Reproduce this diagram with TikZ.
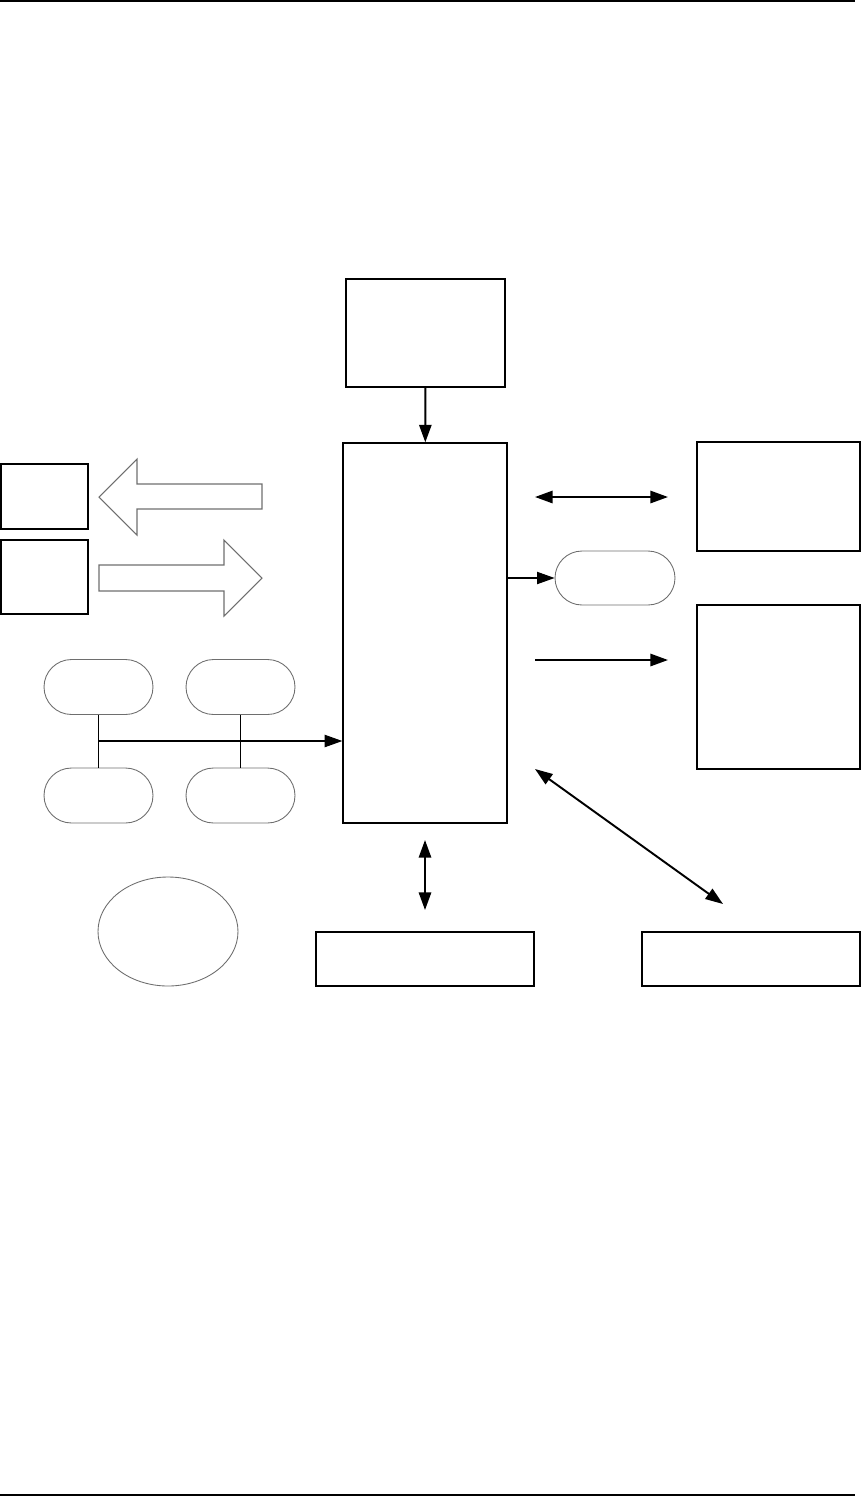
\documentclass[tikz,border=0pt]{standalone}
\usepackage{tikz}
\usetikzlibrary{
  positioning,
  arrows.meta,
  calc
}
\usepackage{xcolor}
\definecolor{pillline}{HTML}{6E6E6E}

\begin{document}
\begin{tikzpicture}[x=0.02cm, y=-0.02cm,
  block/.style={draw, line width=0.8pt, inner sep=0pt},
  pill/.style={draw=pillline, line width=0.5pt, rounded corners=0.55cm,
               minimum width=2.18cm, minimum height=1.1cm, inner sep=0pt},
  hollow/.style={draw=pillline, line width=0.6pt, line join=miter},
  arr/.style={-{Triangle[length=10pt, width=7pt]}, line width=1.1pt},
  dblarr/.style={{Triangle[length=10pt, width=7pt]}-{Triangle[length=10pt, width=7pt]}, line width=1.1pt},
  thinarr/.style={-{Triangle[length=10pt, width=7pt]}, line width=0.6pt}
]
  \useasboundingbox (0,0) rectangle (861,1498);

  % page rules
  \coordinate (rtl) at (0,1);
  \coordinate (rtr) at (855,1);
  \coordinate (rbl) at (0,1495);
  \coordinate (rbr) at (855,1495);
  \draw[line width=1.1pt] (rtl) -- (rtr);
  \draw[line width=0.8pt] (rbl) -- (rbr);

  % centre column
  \node[block, minimum width=3.18cm, minimum height=2.16cm] (top) at (425.5, 333) {};
  \node[block, minimum width=3.28cm, minimum height=7.6cm] (main) at (425, 633) {};
  \draw[arr] (top) -- (main);

  % left side boxes
  \node[block, minimum width=1.74cm, minimum height=1.3cm] (lbox1) at (44.5, 496.5) {};
  \node[block, minimum width=1.74cm, minimum height=1.48cm] (lbox2) at (44.5, 577) {};

  % block arrows
  \draw[hollow] (99,497) -- (137,459) -- (137,484) -- (262,484) -- (262,509)
    -- (137,509) -- (137,535) -- cycle;
  \draw[hollow] (99,565) -- (224,565) -- (224,540) -- (262,578) -- (224,616)
    -- (224,591) -- (99,591) -- cycle;

  % four pills feeding the main block
  \node[pill] (pilltl) at (98.5, 687) {};
  \node[pill] (pilltr) at (240.5, 687) {};
  \node[pill] (pillbl) at (98.5, 795.5) {};
  \node[pill] (pillbr) at (240.5, 795.5) {};
  \draw[line width=0.6pt] (pilltl.south) -- (pillbl.north);
  \draw[line width=1.1pt] (pilltr.south) -- (pillbr.north);
  \coordinate (bus) at (98, 741);
  \draw[thinarr] (bus) -- (bus -| main.west);

  % ellipse
  \draw[draw=pillline, line width=0.5pt] (168, 931.5) ellipse [x radius=70, y radius=54.5];

  % right side
  \node[block, minimum width=3.26cm, minimum height=2.18cm] (rbox1) at (778.5, 496.5) {};
  \node[block, minimum width=3.26cm, minimum height=3.28cm] (rbox2) at (778.5, 687) {};
  \node[pill, minimum width=2.4cm, minimum height=1.08cm, rounded corners=0.54cm] (pillr) at (615, 578) {};
  \draw[thinarr] (main.east |- pillr) -- (pillr.west);

  \coordinate (da1) at (535, 497);
  \coordinate (da2) at (668, 497);
  \draw[dblarr] (da1) -- (da2);
  \coordinate (oa1) at (535, 660);
  \coordinate (oa2) at (668, 660);
  \draw[arr] (oa1) -- (oa2);

  % bottom row
  \node[block, minimum width=4.36cm, minimum height=1.08cm] (bbox1) at (425, 959) {};
  \node[block, minimum width=4.36cm, minimum height=1.08cm] (bbox2) at (751, 959) {};
  \coordinate (va1) at (425, 840);
  \coordinate (va2) at (425, 910);
  \draw[dblarr] (va1) -- (va2);
  \coordinate (ga1) at (535, 769);
  \coordinate (ga2) at (723, 904);
  \draw[dblarr] (ga1) -- (ga2);

\end{tikzpicture}
\end{document}
